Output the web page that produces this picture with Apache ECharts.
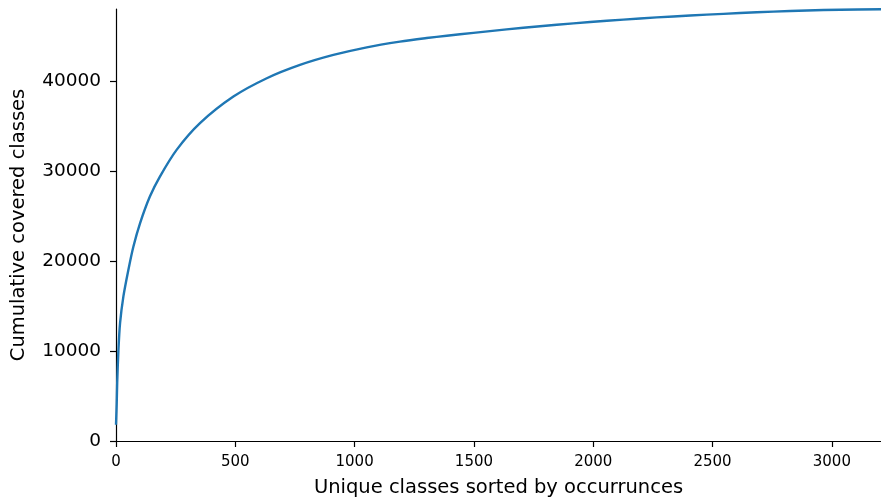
<!DOCTYPE html>
<html>
<head>
<meta charset="utf-8">
<script src="https://cdn.jsdelivr.net/npm/echarts@6/dist/echarts.min.js"></script>
<style>
html,body{margin:0;padding:0;background:#fff;}
#c{width:881px;height:502px;}
</style>
</head>
<body>
<div id="c"></div>
<script>
// Data
var xValues = [0, 3, 5, 10, 17, 31, 52, 73, 101, 142, 184, 254, 352, 492, 632, 771, 911, 1051, 1190, 1302, 1386, 1498, 1637, 1777, 1917, 2057, 2196, 2336, 2476, 2615, 2755, 2895, 3035, 3206];
var yValues = [1800, 4200, 6460, 10000, 13100, 16080, 19050, 21630, 24230, 27180, 29400, 32370, 35340, 38290, 40330, 41810, 42920, 43770, 44400, 44800, 45060, 45380, 45760, 46110, 46430, 46720, 46980, 47200, 47400, 47580, 47740, 47870, 47950, 48010];
var xTicks = [0, 500, 1000, 1500, 2000, 2500, 3000];
var yTicks = [0, 10000, 20000, 30000, 40000];
var xTitle = 'Unique classes sorted by occurrunces';
var yTitle = 'Cumulative covered classes';
var xMax = 3206;
var yMax = 48030;

var pts = xValues.map(function (x, i) { return [x, yValues[i]]; });
var font = 'DejaVu Sans';
var plain = function (v) { return String(v); };
var chart = echarts.init(document.getElementById('c'), null, {renderer: 'canvas'});
chart.setOption({
  animation: false,
  backgroundColor: '#ffffff',
  grid: {left: 116, top: 9, right: 0, bottom: 61, containLabel: false, outerBoundsMode: 'none'},
  xAxis: [{
    type: 'value', min: 0, max: xMax, position: 'bottom',
    name: xTitle, nameLocation: 'middle', nameGap: 37,
    nameTextStyle: {fontFamily: font, fontSize: 19.5, color: '#000'},
    axisLine: {show: true, onZero: false, lineStyle: {color: '#000', width: 1.2}},
    axisTick: {show: true, length: 6, inside: false, customValues: xTicks, lineStyle: {color: '#000', width: 1.2}},
    axisLabel: {show: true, customValues: xTicks, formatter: plain, margin: 14, fontFamily: font, fontSize: 15, color: '#000'},
    splitLine: {show: false}
  }, {
    type: 'value', min: 0, max: xMax, position: 'top',
    axisLine: {show: true, lineStyle: {color: '#000', width: 1.2}},
    axisTick: {show: false}, axisLabel: {show: false}, splitLine: {show: false}
  }],
  yAxis: {
    type: 'value', min: 0, max: yMax,
    name: yTitle, nameLocation: 'middle', nameGap: 87, nameRotate: 90,
    nameTextStyle: {fontFamily: font, fontSize: 19.5, color: '#000'},
    axisLine: {show: true, onZero: false, lineStyle: {color: '#000', width: 1.2}},
    axisTick: {show: true, length: 6, inside: false, customValues: yTicks, lineStyle: {color: '#000', width: 1.2}},
    axisLabel: {show: true, customValues: yTicks, formatter: plain, margin: 15, fontFamily: font, fontSize: 18.5, color: '#000'},
    splitLine: {show: false}
  },
  series: [{
    type: 'line', data: pts, xAxisIndex: 0,
    showSymbol: false, smooth: 0.3,
    lineStyle: {color: '#1f77b4', width: 2.4},
    clip: true
  }]
});
</script>
</body>
</html>
